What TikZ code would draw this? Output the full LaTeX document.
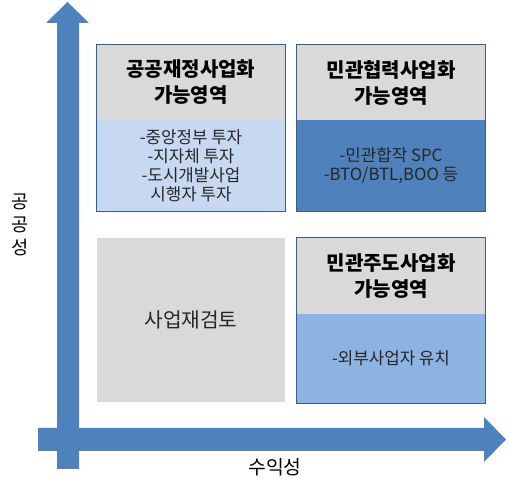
\documentclass[tikz,border=0pt]{standalone}
\usepackage{fontspec}
\setmainfont{Noto Sans CJK KR}
\definecolor{axisblue}{HTML}{4F81BD}
\definecolor{headgray}{HTML}{D9D9D9}
\definecolor{lightblue}{HTML}{C6D9F1}
\definecolor{midblue}{HTML}{8DB3E2}
\definecolor{edgeblue}{HTML}{385D8A}
\tikzset{
  head/.style={fill=headgray, minimum width=141pt, inner sep=0pt, align=center, font=\fontsize{15}{19.5}\selectfont\bfseries},
  body/.style={minimum width=141pt, inner sep=0pt, align=center, text=black!85, font=\fontsize{12.6}{14.3}\selectfont},
  edge/.style={draw=edgeblue, line width=1pt}
}
\begin{document}
\begin{tikzpicture}[x=0.75pt, y=-0.75pt]
\useasboundingbox (0,0) rectangle (508,488);
% axes
\fill[axisblue] (57,469) -- (57,23) -- (46,23) -- (67.5,2) -- (89,23) -- (79,23) -- (79,469) -- cycle;
\fill[axisblue] (38,428) -- (484,428) -- (484,417) -- (506,439.5) -- (484,462) -- (484,451) -- (38,451) -- cycle;
\node[font=\fontsize{14}{17.5}\selectfont, align=center] (yl) at (20,225) {공\\공\\성};
\node[font=\fontsize{14.5}{17}\selectfont] (xl) at (275,467) {수익성};
% top left
\node[head, minimum height=56.25pt] (h1) at (191,82.5) {공공재정사업화\\가능영역};
\node[body, fill=lightblue, minimum height=68.25pt] (b1) at (191,165.5) {-중앙정부 투자\\-지자체 투자\\-도시개발사업\\시행자 투자};
\draw[edge] (h1.north west) rectangle (b1.south east);
% top right
\node[head, minimum height=56.25pt] (h2) at (391,82.5) {민관협력사업화\\가능영역};
\node[body, fill=axisblue, minimum height=68.25pt] (b2) at (391,165.5) {-민관합작 SPC\\-BTO/BTL,BOO 등};
\draw[edge] (h2.north west) rectangle (b2.south east);
% bottom left
\node[body, fill=headgray, minimum height=123pt, font=\fontsize{15.2}{18}\selectfont] (h3) at (191,320) {사업재검토};
% bottom right
\node[head, minimum height=57pt] (h4) at (391,276) {민관주도사업화\\가능영역};
\node[body, fill=midblue, minimum height=66.75pt] (b4) at (391,358.5) {-외부사업자 유치};
\draw[edge] (h4.north west) rectangle (b4.south east);
\end{tikzpicture}
\end{document}
